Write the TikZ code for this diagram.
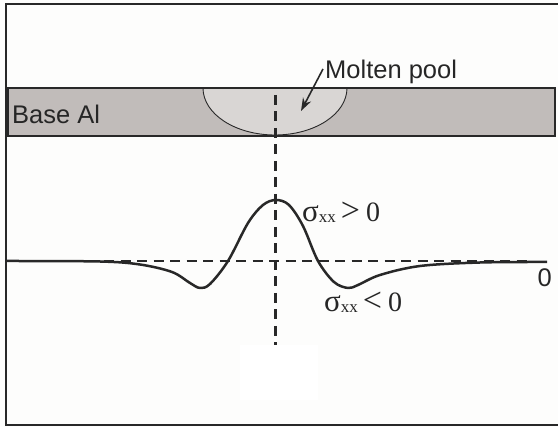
\documentclass[tikz,border=0pt]{standalone}
\usepackage{fontspec}
\setmainfont{Liberation Sans}
\newfontfamily\seriffam{Liberation Serif}
\usetikzlibrary{arrows.meta}
\definecolor{bg}{RGB}{253,253,252}
\definecolor{barfill}{RGB}{193,188,186}
\definecolor{poolfill}{RGB}{217,214,212}
\definecolor{ink}{RGB}{40,40,40}
\newcommand{\sigxx}[1]{{\fontsize{31}{31}\selectfont σ}\raisebox{-1pt}{\fontsize{17}{17}\selectfont xx}\hspace{5pt}{\fontsize{34}{34}\selectfont #1}\hspace{6pt}{\fontsize{28}{28}\selectfont 0}}
\tikzset{
  framelw/.style={line width=2pt, draw=ink},
  dashline/.style={line width=2.1pt, draw=ink, dash pattern=on 10pt off 6.5pt},
  curveline/.style={line width=2.5pt, draw=ink, line join=round},
  sanslabel/.style={inner sep=0pt, font=\fontsize{25.5}{25.5}\selectfont, text=black!85},
  siglabel/.style={inner sep=0pt, font=\seriffam, text=black!85}
}
\begin{document}
\begin{tikzpicture}[x=1pt,y=-1pt]
\useasboundingbox (0,0) rectangle (558,427);
\fill[bg] (0,0) rectangle (558,427);
\fill[white] (240,345) rectangle (318,400);
% frame (left, top, bottom)
\draw[framelw] (560,4.5) -- (5.5,4.5) -- (5.5,425) -- (560,425);
% base bar
\draw[line width=1.8pt, draw=ink, fill=barfill] (8,88) rectangle (555,136);
% molten pool
\draw[line width=0.9pt, draw=ink, fill=poolfill] (203,88) arc[start angle=180, end angle=360, x radius=72, y radius=-47] -- cycle;
\draw[line width=1.8pt, draw=ink] (8,88) -- (555,88);
% dashed axes
\draw[dashline] (275.5,95) -- (275.5,345);
\draw[dashline] (5,261) -- (528,261);
% stress curve
\draw[curveline] plot[smooth, tension=0.55] coordinates {
 (6,261) (100,261.5) (140,264.5) (172,272) (190,283) (200,288) (210,284) (228,261)
 (248,223) (263,205) (276,200) (289,205) (303,226) (318,261) (334,282) (348,288)
 (358,285) (380,275) (420,266) (480,262.5) (547,262)};
% labels
\node[sanslabel, anchor=base west] (base) at (12,124) {Base Al};
\node[sanslabel, anchor=base west] (mp) at (325,79) {Molten pool};
\coordinate (pooltip) at (301,111);
\draw[line width=1.6pt, draw=ink, -{Stealth[length=13pt,width=9pt]}] (323,69) -- (pooltip);
\node[sanslabel, anchor=base east] (zero) at (552,287) {0};
\node[siglabel, anchor=base west] (sp) at (302,222) {\sigxx{>}};
\node[siglabel, anchor=base west] (sn) at (324,312) {\sigxx{<}};
\end{tikzpicture}
\end{document}
